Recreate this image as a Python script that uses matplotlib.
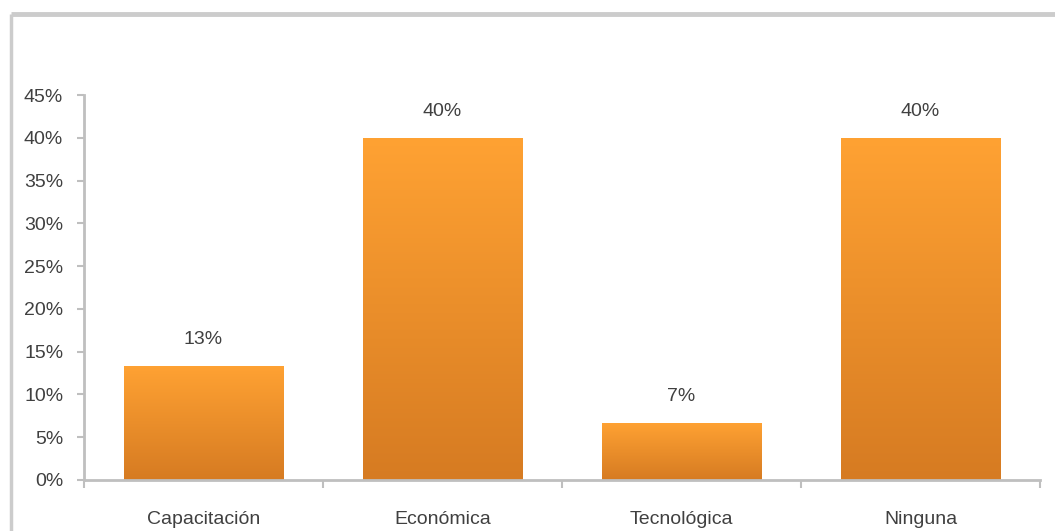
import numpy as np
import matplotlib
matplotlib.use('Agg')
import matplotlib.pyplot as plt
from matplotlib.colors import LinearSegmentedColormap
from matplotlib.lines import Line2D

categories = ['Capacitación', 'Económica', 'Tecnológica', 'Ninguna']
values = [13.33, 40.0, 6.67, 40.0]
value_labels = ['13%', '40%', '7%', '40%']
y_ticks = [0, 5, 10, 15, 20, 25, 30, 35, 40, 45]

plt.rcParams['font.family'] = ['Liberation Sans Narrow', 'Liberation Sans', 'DejaVu Sans']

fig = plt.figure(figsize=(10.55, 5.31), dpi=100)
ax = fig.add_axes([84/1055, 51/531, 956/1055, 385/531])

# outer frame (only top and left visible in the original)
fig.add_artist(Line2D([11/1055, 1.0], [1 - 14/531, 1 - 14/531], transform=fig.transFigure,
                      color='#cccccc', lw=3.5, solid_capstyle='butt'))
fig.add_artist(Line2D([11/1055, 11/1055], [0.0, 1 - 14/531], transform=fig.transFigure,
                      color='#cccccc', lw=2.5, solid_capstyle='butt'))

x = np.arange(len(categories))
width = 0.667
cmap = LinearSegmentedColormap.from_list('orange', ['#d67b22', '#ffa233'])
grad = np.linspace(0, 1, 256).reshape(-1, 1)

bars = ax.bar(x, values, width=width, color='none', edgecolor='none')
for b in bars:
    im = ax.imshow(grad, cmap=cmap, origin='lower', aspect='auto',
                   extent=[b.get_x(), b.get_x() + b.get_width(), 0, b.get_height()],
                   zorder=2)
    im.set_clip_path(b)

for xi, v, lab in zip(x, values, value_labels):
    ax.annotate(lab, (xi, v), xytext=(0, 13), textcoords='offset points',
                ha='center', va='bottom', fontsize=14, color='#404040')

ax.set_xlim(-0.5, len(categories) - 0.5)
ax.set_ylim(0, 45)
ax.set_yticks(y_ticks)
ax.set_yticklabels([f'{t}%' for t in y_ticks], fontsize=14, color='#404040')
ax.set_xticks(x)
ax.set_xticklabels(categories, fontsize=14, color='#404040')
ax.tick_params(axis='x', length=0, pad=22)
ax.set_xticks(np.arange(len(categories) + 1) - 0.5, minor=True)
ax.tick_params(axis='x', which='minor', length=6, width=1.5, color='#bfbfbf')
ax.tick_params(axis='y', length=5, width=1.5, color='#bfbfbf', pad=10)

for s in ['top', 'right']:
    ax.spines[s].set_visible(False)
for s in ['left', 'bottom']:
    ax.spines[s].set_color('#bfbfbf')
    ax.spines[s].set_linewidth(2)

fig.savefig('out.png', dpi=100)
